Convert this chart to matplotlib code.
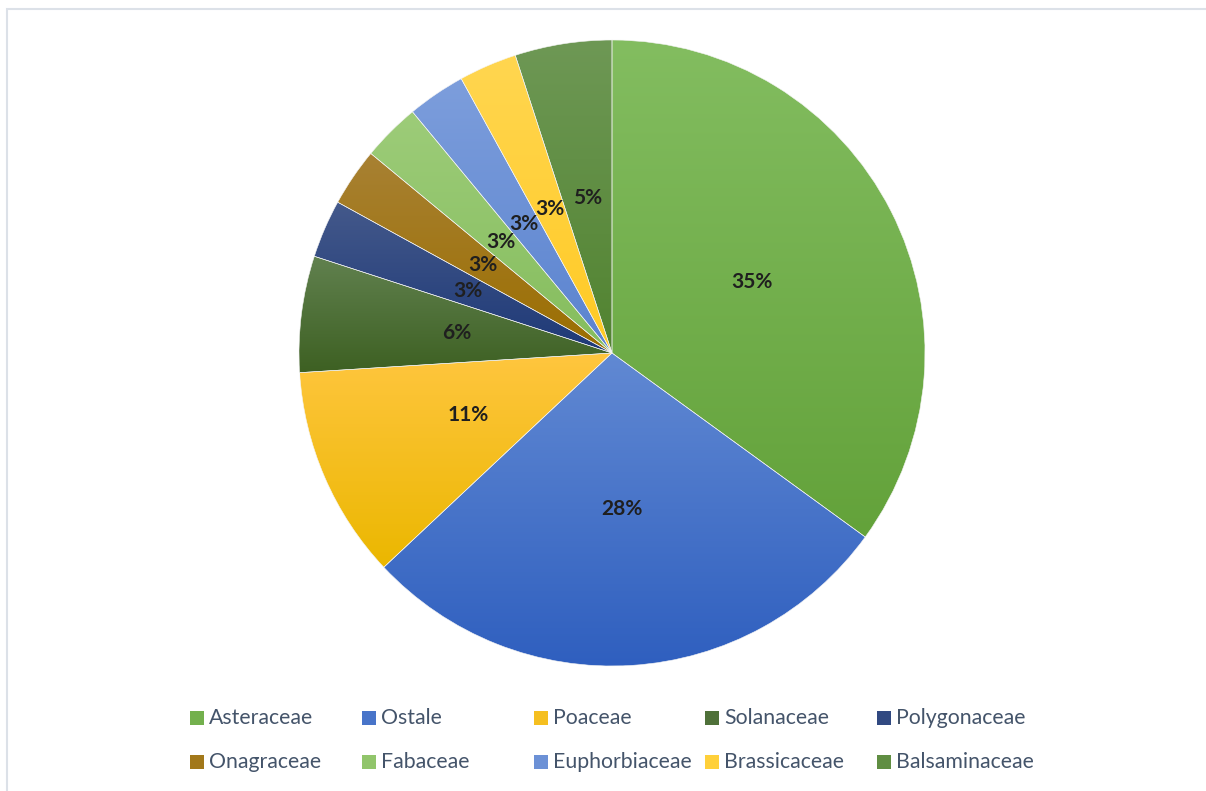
import numpy as np
import matplotlib
matplotlib.use('Agg')
import matplotlib.pyplot as plt
from matplotlib.patches import Rectangle
from matplotlib.colors import to_rgb

families = ['Asteraceae', 'Ostale', 'Poaceae', 'Solanaceae', 'Polygonaceae',
            'Onagraceae', 'Fabaceae', 'Euphorbiaceae', 'Brassicaceae', 'Balsaminaceae']
shares = [35, 28, 11, 6, 3, 3, 3, 3, 3, 5]

# gradient colours (top, bottom) per slice
top_cols = ['#83BD60', '#6189D3', '#FFC63F', '#61814F', '#44598B',
            '#A88133', '#9DCC79', '#7D9EDC', '#FFD650', '#6E9855']
bot_cols = ['#63A23A', '#2F5FBF', '#EBB700', '#3D6022', '#1E3977',
            '#9B6E00', '#85BD5D', '#5A83CF', '#FFCA24', '#518330']

plt.rcParams['font.family'] = ['Lato', 'DejaVu Sans']

W, H = 1206, 791
fig = plt.figure(figsize=(W / 100, H / 100), dpi=100)

# chart border
fig.add_artist(Rectangle((6.5 / W, -0.1), 1.2, 1 - 9.5 / H + 0.1,
                         transform=fig.transFigure, fill=False,
                         edgecolor='#DCE1E8', linewidth=1.5))

cx, cy, r = 612, 353, 313
ax = fig.add_axes([(cx - r) / W, 1 - (cy + r) / H, 2 * r / W, 2 * r / H])

wedges, texts, autotexts = ax.pie(
    shares, startangle=90, counterclock=False, radius=1,
    autopct='%1.0f%%', pctdistance=0.5,
    wedgeprops=dict(edgecolor='#F4F4F4', linewidth=0.4, facecolor='none'),
    textprops=dict(fontsize=15, fontweight='bold', color='#1F1F1F'))

for i, w in enumerate(wedges):
    ext = w.get_path().get_extents()
    c1 = np.array(to_rgb(top_cols[i]))
    c2 = np.array(to_rgb(bot_cols[i]))
    t = np.linspace(0, 1, 256)[:, None, None]
    grad = c1 * (1 - t) + c2 * t
    im = ax.imshow(grad, extent=[ext.x0, ext.x1, ext.y0, ext.y1], origin='upper',
                   aspect='auto', interpolation='bilinear', zorder=0.5)
    im.set_clip_path(w)
    w.set_zorder(1)

for at in autotexts:
    at.set_zorder(3)

ax.set_xlim(-1, 1)
ax.set_ylim(-1, 1)
ax.set_aspect('equal')
ax.axis('off')

# legend, two rows of five equal columns
col_x = [190 + 171.8 * k for k in range(5)]
row_y = [718, 762]
for i, name in enumerate(families):
    x = col_x[i % 5]
    y = row_y[i // 5]
    mid = (np.array(to_rgb(top_cols[i])) + np.array(to_rgb(bot_cols[i]))) / 2
    fig.add_artist(Rectangle((x / W, 1 - (y + 7) / H), 14 / W, 14 / H,
                             transform=fig.transFigure, facecolor=mid,
                             edgecolor='none'))
    fig.text((x + 19) / W, 1 - y / H, name, fontsize=15.3, color='#44546A',
             va='center', ha='left')

fig.savefig('out.png', dpi=100)
